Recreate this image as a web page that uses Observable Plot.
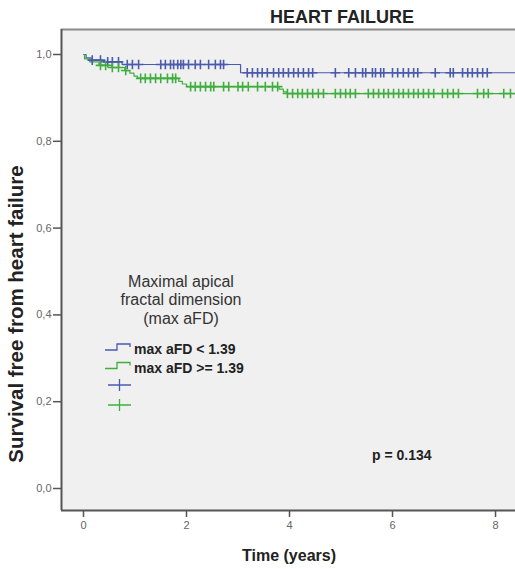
<!DOCTYPE html>
<html>
<head>
<meta charset="utf-8">
<script src="https://cdn.jsdelivr.net/npm/d3@7"></script>
<script src="https://cdn.jsdelivr.net/npm/@observablehq/plot@0.6"></script>
<style>
  html, body { margin: 0; padding: 0; background: #fff; }
  #chart { position: relative; width: 515px; height: 569px; }
  svg { font-family: "Liberation Sans", Arial, sans-serif; }
</style>
</head>
<body>
<div id="chart"></div>
<script>
// ---- Data ----
const title = "HEART FAILURE";
const xLabel = "Time (years)";
const yLabel = "Survival free from heart failure";
const xTicks = [0, 2, 4, 6, 8];
const yTicks = [0, 0.2, 0.4, 0.6, 0.8, 1.0];

const groupNames = ["max aFD < 1.39", "max aFD >= 1.39"];
const groupColors = ["#4a5aad", "#3fae3f"];
const legendTitle = ["Maximal apical", "fractal dimension", "(max aFD)"];
const pText = "p = 0.134";

// step functions (time in years, survival)
const blueTimes = [0, 0.05, 0.15, 0.35, 0.75, 3.05, 8.6];
const blueSurv  = [1.0, 0.992, 0.987, 0.983, 0.977, 0.958, 0.958];
const greenTimes = [0, 0.02, 0.12, 0.3, 0.55, 0.8, 0.9, 0.98, 1.05, 1.85, 1.92, 2.0, 3.8, 3.88, 3.95, 8.6];
const greenSurv  = [1.0, 0.99, 0.983, 0.975, 0.97, 0.963, 0.957, 0.95, 0.945, 0.938, 0.932, 0.926, 0.92, 0.914, 0.91, 0.91];

// censored observations (time in years)
const blueCensor = [0.17, 0.33, 0.47, 0.56, 0.68, 0.85, 0.95, 1.07, 1.5, 1.59, 1.69, 1.75, 1.83, 1.89, 1.94, 2.04, 2.17, 2.27, 2.43, 2.56, 2.66, 2.72, 3.18, 3.28, 3.38, 3.47, 3.57, 3.69, 3.79, 3.88, 3.98, 4.08, 4.17, 4.27, 4.37, 4.45, 4.89, 5.15, 5.28, 5.42, 5.48, 5.61, 5.67, 5.77, 5.83, 6.0, 6.1, 6.21, 6.31, 6.41, 6.49, 6.83, 7.12, 7.18, 7.36, 7.46, 7.55, 7.65, 7.75, 7.84];
const greenCensor = [0.33, 0.43, 0.56, 0.68, 0.82, 1.11, 1.2, 1.3, 1.4, 1.5, 1.63, 1.73, 1.79, 2.08, 2.17, 2.27, 2.37, 2.47, 2.53, 2.72, 2.82, 3.0, 3.09, 3.2, 3.38, 3.53, 3.67, 3.77, 3.96, 4.06, 4.16, 4.25, 4.35, 4.45, 4.56, 4.66, 4.89, 4.99, 5.09, 5.18, 5.28, 5.53, 5.63, 5.73, 5.83, 5.92, 6.02, 6.12, 6.21, 6.31, 6.41, 6.5, 6.6, 6.7, 6.8, 6.97, 7.07, 7.18, 7.28, 7.65, 7.77, 7.86, 8.16, 8.29];

// ---- Build tables ----
const curves = [
  ...blueTimes.map((t, i) => ({t, s: blueSurv[i], g: groupNames[0]})),
  ...greenTimes.map((t, i) => ({t, s: greenSurv[i], g: groupNames[1]}))
];
function survAt(times, surv, t) {
  let s = surv[0];
  for (let i = 0; i < times.length; i++) if (times[i] <= t) s = surv[i];
  return s;
}
const censors = [
  ...blueCensor.map(t => ({t, s: survAt(blueTimes, blueSurv, t), g: groupNames[0]})),
  ...greenCensor.map(t => ({t, s: survAt(greenTimes, greenSurv, t), g: groupNames[1]}))
];

const xDomain = [-0.427, 8.388];
const yDomain = [-0.0507, 1.0576];
const colorScale = {domain: groupNames, range: groupColors};

const plot = Plot.plot({
  width: 515,
  height: 569,
  marginLeft: 61,
  marginRight: 0,
  marginTop: 29,
  marginBottom: 59,
  style: {fontFamily: "Liberation Sans, Arial, sans-serif", background: "#fff", overflow: "visible"},
  x: {domain: xDomain, ticks: xTicks, label: null},
  y: {domain: yDomain, ticks: yTicks, label: null},
  color: colorScale,
  marks: [
    Plot.frame({fill: "#f0f0f0", stroke: null}),
    Plot.ruleY([yDomain[1]], {stroke: "#8a8a8a", strokeWidth: 2}),
    Plot.ruleY([yDomain[0]], {stroke: "#555", strokeWidth: 2}),
    Plot.ruleX([xDomain[0]], {stroke: "#555", strokeWidth: 2}),
    Plot.line(curves, {x: "t", y: "s", z: "g", stroke: "g", curve: "step-after", strokeWidth: 1.2, clip: true}),
    Plot.dot(censors, {x: "t", y: "s", stroke: "g", symbol: "plus", r: 3.2, strokeWidth: 1.6}),
    Plot.axisX({ticks: xTicks, tickSize: 7, tickPadding: 4, fontSize: 11, stroke: "#555", color: "#666", strokeWidth: 1.5, label: null}),
    Plot.axisY({ticks: yTicks, tickSize: 8, tickPadding: 2, fontSize: 11, stroke: "#555", color: "#666", strokeWidth: 1.5, label: null,
      tickFormat: d => d.toFixed(1).replace(".", ",")})
  ]
});
document.getElementById("chart").appendChild(plot);

// ---- Annotations (title, axis titles, legend, p-value) ----
const svg = d3.select(plot);
const g = svg.append("g").attr("fill", "#222");
g.append("text").attr("x", 342).attr("y", 17).attr("text-anchor", "middle").attr("dominant-baseline", "central")
  .attr("font-size", 18).attr("font-weight", "bold").text(title);
g.append("text").attr("x", 289).attr("y", 555).attr("text-anchor", "middle").attr("dominant-baseline", "central")
  .attr("font-size", 16).attr("font-weight", "bold").text(xLabel);
g.append("text").attr("transform", "translate(15,314) rotate(-90)").attr("text-anchor", "middle").attr("dominant-baseline", "central")
  .attr("font-size", 20.5).attr("font-weight", "bold").text(yLabel);

// legend title
legendTitle.forEach((line, i) => {
  g.append("text").attr("x", 181).attr("y", 281 + i * 18.5).attr("text-anchor", "middle").attr("dominant-baseline", "central")
    .attr("font-size", 16).attr("fill", "#333").text(line);
});
// legend step items
groupNames.forEach((name, i) => {
  const y = 350 + i * 18.5;
  svg.append("path").attr("d", `M105,${y} H117 V${y - 6} H130 V${y - 3}`)
    .attr("fill", "none").attr("stroke", groupColors[i]).attr("stroke-width", 1.3);
  g.append("text").attr("x", 134).attr("y", y - 1).attr("text-anchor", "start").attr("dominant-baseline", "central")
    .attr("font-size", 14).attr("font-weight", "bold").text(name);
});
// legend censor items
groupNames.forEach((name, i) => {
  const y = 385 + i * 20;
  svg.append("path").attr("d", `M108,${y} H131 M119.5,${y - 6} V${y + 6}`)
    .attr("fill", "none").attr("stroke", groupColors[i]).attr("stroke-width", 1.3);
});
// p value
g.append("text").attr("x", 372).attr("y", 455).attr("text-anchor", "start").attr("dominant-baseline", "central")
  .attr("font-size", 14).attr("font-weight", "bold").text(pText);
</script>
</body>
</html>
